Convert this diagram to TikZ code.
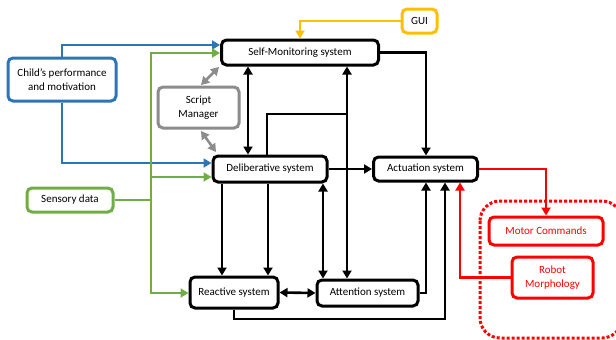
\documentclass[tikz,border=0pt]{standalone}
\usepackage{fontspec}
\setmainfont{Carlito}
\usetikzlibrary{arrows.meta}
\definecolor{cblue}{RGB}{46,117,182}
\definecolor{cgreen}{RGB}{112,173,71}
\definecolor{cgray}{RGB}{140,140,140}
\definecolor{cyellow}{RGB}{255,192,0}
\definecolor{cred}{RGB}{255,0,0}
\tikzset{
  box/.style={draw, line width=3pt, rounded corners=5pt, align=center, inner sep=0pt, font=\fontsize{11}{14}\selectfont},
  blkbox/.style={box, draw=black, fill=white},
  wire/.style={line width=2.6pt, -{Triangle[length=8pt,width=9pt]}},
  dwire/.style={line width=2.6pt, {Triangle[length=8pt,width=9pt]}-{Triangle[length=8pt,width=9pt]}},
}
\begin{document}
\begin{tikzpicture}[x=1pt,y=-1pt]
\useasboundingbox (0,0) rectangle (616,340);
\begin{scope}
\clip (0,0) rectangle (616,340);
\draw[cred, line width=3pt, dotted, rounded corners=20pt] (480,201) rectangle (622,338);
\end{scope}

\node[blkbox, minimum width=157pt, minimum height=25pt] (sm) at (300,52.5) {Self-Monitoring system};
\node[box, draw=cyellow, minimum width=35pt, minimum height=24pt] (gui) at (419.5,21) {GUI};
\node[box, draw=cblue, minimum width=108pt, minimum height=43pt] (child) at (62,79.5) {Child's performance\\and motivation};
\node[box, draw=cgray, minimum width=81pt, minimum height=41pt] (script) at (198.5,107.5) {Script\\Manager};
\node[blkbox, minimum width=114pt, minimum height=26pt] (del) at (270,169) {Deliberative system};
\node[blkbox, minimum width=104pt, minimum height=24pt] (act) at (425.5,169) {Actuation system};
\node[box, draw=cgreen, minimum width=86pt, minimum height=24pt] (sens) at (70,200) {Sensory data};
\node[blkbox, minimum width=88pt, minimum height=31pt] (rea) at (234,292.5) {Reactive system};
\node[blkbox, minimum width=101pt, minimum height=26pt] (att) at (367.5,293) {Attention system};
\node[box, draw=cred, text=cred, minimum width=114pt, minimum height=28pt] (mot) at (546,231) {Motor Commands};
\node[box, draw=cred, text=cred, minimum width=81pt, minimum height=41pt] (rob) at (552.5,277.5) {Robot\\Morphology};

% yellow
\draw[wire, cyellow] (gui.west) -| (sm.north);
% blue
\draw[wire, cblue] (child.north) |- (sm.west |- 0,45);
\draw[wire, cblue] (child.south) |- (del.west |- 0,163);
% green
\coordinate (gj) at (151,200);
\draw[line width=2.6pt, cgreen] (sens.east) -- (gj);
\draw[wire, cgreen] (gj) |- (sm.west |- 0,53);
\draw[wire, cgreen] (gj) |- (del.west |- 0,177);
\draw[wire, cgreen] (gj) |- (rea.west |- 0,293);
% gray
\draw[dwire, cgray] (201,85) -- (219,67);
\draw[dwire, cgray] (201,131) -- (216,152);
% black
\draw[dwire] (sm.south -| 248,0) -- (del.north -| 248,0);
\coordinate (dj) at (347,114);
\draw[line width=2.6pt] (del.north -| 267,0) |- (dj);
\draw[wire] (dj) -- (sm.south -| dj);
\draw[wire] (dj) -- (att.north -| dj);
\draw[wire] (sm.east) -| (act.north -| 426,0);
\draw[wire] (del.east) -- (act.west);
\draw[wire] (del.south -| 222,0) -- (rea.north -| 222,0);
\draw[wire] (del.south -| 268,0) -- (rea.north -| 268,0);
\draw[dwire] (del.south -| 323,0) -- (att.north -| 323,0);
\draw[dwire] (rea.east) -- (att.west);
\draw[wire] (att.east) -| (act.south -| 426,0);
\draw[wire] (rea.south) |- (445,319) -- (act.south -| 445,0);
% red
\draw[wire, cred] (act.east) -| (mot.north);
\draw[wire, cred] (rob.west) -| (act.south -| 460,0);
\end{tikzpicture}
\end{document}
